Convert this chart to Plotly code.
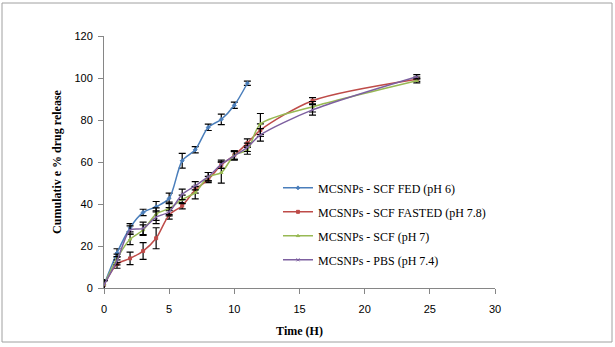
import plotly.graph_objects as go

# Sampling times (hours)
t_fed = [0, 1, 2, 3, 4, 5, 6, 7, 8, 9, 10, 11]
t_long = [0, 1, 2, 3, 4, 5, 6, 7, 8, 9, 10, 11, 12, 16, 24]

# Cumulative % drug release (mean) and standard deviation
fed = [1.5, 16.7, 28.7, 36.0, 38.7, 42.7, 60.6, 65.8, 76.5, 80.3, 87.0, 97.5]
fed_sd = [2.5, 2.0, 2.0, 1.5, 2.5, 2.5, 3.5, 1.5, 1.5, 2.5, 1.5, 1.0]

fasted = [1.5, 11.4, 14.1, 17.6, 23.7, 34.8, 39.2, 46.7, 51.7, 58.6, 63.3, 69.0, 75.2, 89.2, 99.4]
fasted_sd = [2.0, 2.0, 3.0, 4.0, 5.0, 2.0, 1.5, 1.5, 1.5, 1.5, 2.0, 2.0, 3.0, 1.5, 1.0]

scf = [1.5, 14.1, 23.2, 27.6, 35.2, 37.9, 42.2, 45.4, 53.0, 54.9, 63.3, 65.7, 78.1, 86.3, 98.7]
scf_sd = [2.0, 2.0, 2.5, 2.5, 3.0, 3.0, 2.0, 3.0, 2.0, 5.0, 2.0, 2.0, 5.0, 2.5, 1.0]

pbs = [1.5, 13.0, 27.6, 28.4, 33.7, 36.3, 44.6, 48.7, 53.0, 58.9, 62.9, 67.0, 72.9, 84.8, 100.6]
pbs_sd = [2.0, 2.0, 2.0, 3.0, 3.0, 2.0, 2.5, 2.0, 2.0, 2.0, 2.0, 2.0, 3.0, 2.5, 1.0]

names = ["MCSNPs - SCF FED (pH 6)", "MCSNPs - SCF FASTED (pH 7.8)",
         "MCSNPs - SCF (pH 7)", "MCSNPs - PBS (pH 7.4)"]
colors = ["#4a7ebb", "#be4b48", "#98b954", "#7d60a0"]
symbols = ["diamond", "square", "triangle-up", "x-thin"]

series = [(t_fed, fed, fed_sd), (t_long, fasted, fasted_sd),
          (t_long, scf, scf_sd), (t_long, pbs, pbs_sd)]

fig = go.Figure()
for i, (t, y, sd) in enumerate(series):
    fig.add_trace(go.Scatter(
        x=t, y=y, name=names[i], mode="lines+markers",
        legendgroup=str(i),
        line=dict(color=colors[i], width=1.5, shape="spline", smoothing=0.8),
        marker=dict(symbol=symbols[i], size=3, color=colors[i],
                    line=dict(color=colors[i], width=1)),
        error_y=dict(type="data", array=sd, visible=True, color="black",
                     thickness=1.2, width=3.5),
    ))

L, T = 104, 36
W, H = 391, 252
fig.update_layout(
    width=615, height=347,
    margin=dict(l=L, r=615 - L - W, t=T, b=347 - T - H),
    paper_bgcolor="white", plot_bgcolor="white",
    showlegend=True,
    legend=dict(x=0.445, y=0.455, xanchor="left", yanchor="top",
                bgcolor="rgba(0,0,0,0)", tracegroupgap=5,
                itemwidth=30,
                font=dict(family="Liberation Serif", size=12, color="black")),
    xaxis=dict(range=[0, 30], tickvals=[0, 5, 10, 15, 20, 25, 30],
               showgrid=False, zeroline=False, showline=True,
               linecolor="#868686", linewidth=1,
               ticks="outside", ticklen=5, tickcolor="#868686",
               ticklabelstandoff=6,
               tickfont=dict(family="Liberation Sans", size=11, color="black"),
               title=dict(text="<b>Time (H)</b>", standoff=12,
                          font=dict(family="Liberation Serif", size=12, color="black"))),
    yaxis=dict(range=[0, 120], tickvals=[0, 20, 40, 60, 80, 100, 120],
               showgrid=False, zeroline=False, showline=True,
               linecolor="#868686", linewidth=1,
               ticks="outside", ticklen=5, tickcolor="#868686",
               ticklabelstandoff=3,
               tickfont=dict(family="Liberation Sans", size=11, color="black"),
               title=dict(text="<b>Cumulativ e % drug release</b>", standoff=10,
                          font=dict(family="Liberation Serif", size=12, color="black"))),
)

# frame around the whole chart
fig.add_shape(type="rect", xref="paper", yref="paper",
              x0=(2 - L) / W, x1=(612 - L) / W,
              y0=-(342 - T - H) / H, y1=1 + (T - 3) / H,
              line=dict(color="#a0a0a0", width=1))

fig.write_html("out.html")
